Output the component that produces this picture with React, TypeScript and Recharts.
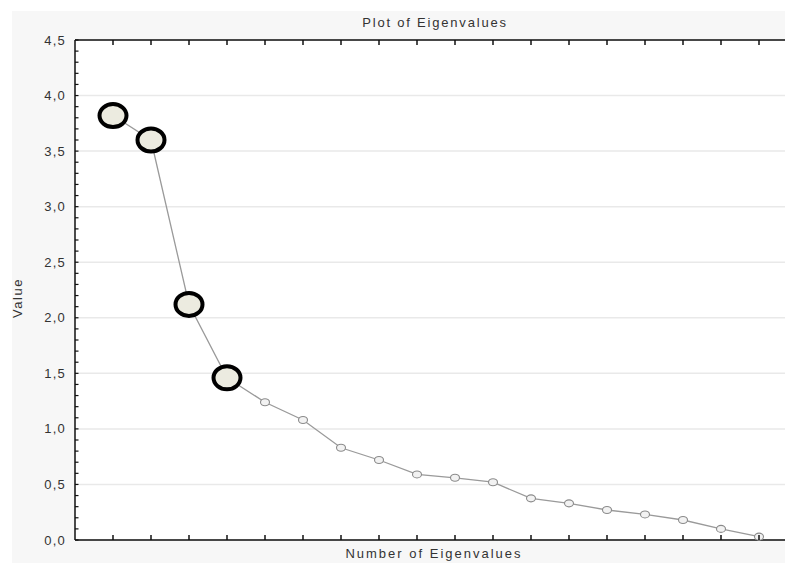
import { CartesianGrid, Line, LineChart, XAxis, YAxis } from "recharts";

// eigenvalue number (x) and value (y)
const eigenNumbers = [1, 2, 3, 4, 5, 6, 7, 8, 9, 10, 11, 12, 13, 14, 15, 16, 17, 18];
const eigenValues = [3.82, 3.6, 2.12, 1.46, 1.24, 1.08, 0.83, 0.72, 0.59, 0.56, 0.52, 0.375, 0.33, 0.27, 0.23, 0.18, 0.1, 0.03];
const highlightedCount = 4;

const yTicks = [0, 0.5, 1, 1.5, 2, 2.5, 3, 3.5, 4, 4.5];
const yTickLabels = ["0,0", "0,5", "1,0", "1,5", "2,0", "2,5", "3,0", "3,5", "4,0", "4,5"];
// minor tick marks every 0.1 on the value axis
const yMinorTicks = Array.from({ length: 46 }, (_, i) => i / 10);

const data = eigenNumbers.map((n, i) => ({ n, value: eigenValues[i] }));

const FONT = "'Liberation Sans', Arial, sans-serif";
const TEXT = "#333";
const AXIS = { stroke: "#111", strokeWidth: 1.5 };

function YTick({ x, y, payload }: any) {
  const idx = yTicks.findIndex(t => Math.abs(t - payload.value) < 1e-6);
  return (
    <g>
      <line x1={x} x2={x + 3.5} y1={y} y2={y} stroke="#111" strokeWidth={1.2} />
      {idx >= 0 && (
        <text x={x - 9} y={y} dy={4.5} textAnchor="end" fontSize={13} letterSpacing={1.2} fill={TEXT} fontFamily={FONT}>
          {yTickLabels[idx]}
        </text>
      )}
    </g>
  );
}

function BottomTick({ x, y }: any) {
  return <line x1={x} x2={x} y1={y} y2={y - 5} stroke="#111" strokeWidth={1.5} />;
}

function TopTick({ x, y }: any) {
  return <line x1={x} x2={x} y1={y} y2={y + 5} stroke="#111" strokeWidth={1.5} />;
}

function EigenDot({ cx, cy, index }: any) {
  if (cx == null || cy == null) return null;
  if (index < highlightedCount) {
    return <ellipse key={index} cx={cx} cy={cy} rx={13.5} ry={11.5} fill="#ecebe0" stroke="#000" strokeWidth={4} />;
  }
  return <ellipse key={index} cx={cx} cy={cy} rx={4.5} ry={3.5} fill="#f2f2f2" stroke="#8a8a8a" strokeWidth={1.1} />;
}

export default function App() {
  return (
    <div style={{ position: "absolute", left: 0, top: 0, width: 785, height: 563, overflow: "hidden", background: "#fff", fontFamily: FONT }}>
      <div style={{ position: "absolute", left: 12, top: 11, right: 0, bottom: 0, background: "#f7f7f7" }} />
      <div style={{ position: "absolute", left: 0, top: 0 }}>
        <LineChart width={810} height={563} data={data} margin={{ top: 39, right: 13, bottom: 22, left: 15 }}>
          <CartesianGrid vertical={false} horizontalValues={yTicks} fill="#fff" stroke="#e9e9e9" strokeWidth={1.5} />
          <XAxis
            dataKey="n"
            type="number"
            domain={[0, 19]}
            ticks={eigenNumbers}
            height={1}
            tickSize={0}
            tickMargin={0}
            tick={<BottomTick />}
            axisLine={AXIS}
            tickLine={false}
          />
          <XAxis
            xAxisId="top"
            orientation="top"
            dataKey="n"
            type="number"
            domain={[0, 19]}
            ticks={eigenNumbers}
            height={1}
            tickSize={0}
            tickMargin={0}
            tick={<TopTick />}
            axisLine={AXIS}
            tickLine={false}
          />
          <YAxis
            domain={[0, 4.5]}
            ticks={yMinorTicks}
            interval={0}
            width={60}
            tickSize={0}
            tickMargin={0}
            tick={<YTick />}
            axisLine={AXIS}
            tickLine={false}
          />
          <Line
            dataKey="value"
            stroke="#9a9a9a"
            strokeWidth={1.3}
            dot={<EigenDot />}
            activeDot={false}
            isAnimationActive={false}
          />
        </LineChart>
      </div>
      <div style={{ position: "absolute", left: 235, width: 400, top: 15, textAlign: "center", fontSize: 13, letterSpacing: 1.8, color: TEXT, lineHeight: "16px" }}>
        Plot of Eigenvalues
      </div>
      <div style={{ position: "absolute", left: 234, width: 400, top: 546, textAlign: "center", fontSize: 13, letterSpacing: 2, color: TEXT, lineHeight: "16px" }}>
        Number of Eigenvalues
      </div>
      <div style={{ position: "absolute", left: 18, top: 298, width: 0, height: 0 }}>
        <div style={{ position: "absolute", transform: "translate(-50%, -50%) rotate(-90deg)", fontSize: 13, letterSpacing: 1.5, color: TEXT, whiteSpace: "nowrap", lineHeight: "16px" }}>
          Value
        </div>
      </div>
    </div>
  );
}
